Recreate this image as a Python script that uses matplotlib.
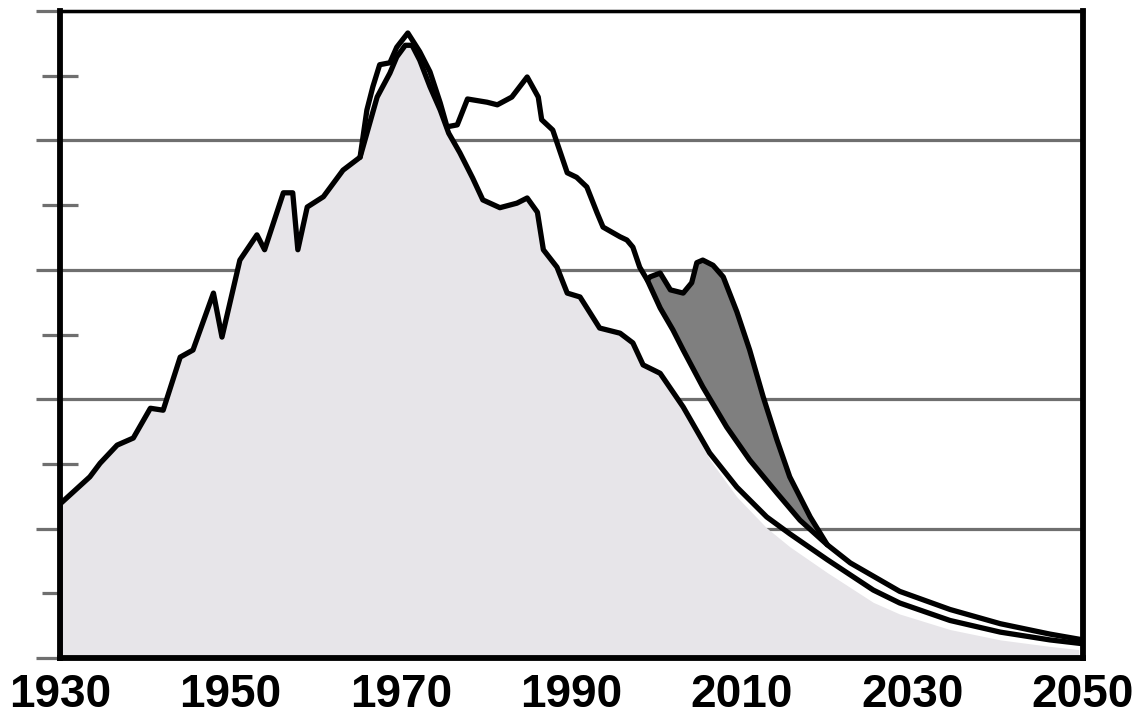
import matplotlib
matplotlib.use("Agg")
import matplotlib.pyplot as plt
import numpy as np

# ---- data ----
years_low = [1930, 1930, 1933.5, 1934.7, 1936.7, 1938.6, 1940.6, 1942.1, 1944.1, 1945.6, 1948.0,
             1949.0, 1951.1, 1953.1, 1954.0, 1956.2, 1957.3, 1957.9, 1959.0, 1960.9, 1963.2,
             1965.2, 1967.2, 1968.7, 1969.5, 1970.5, 1971.3, 1972.2, 1973.4, 1974.6, 1975.6,
             1976.9, 1978.4, 1979.6, 1981.6, 1983.6, 1984.8, 1986.0, 1986.7, 1988.3, 1989.5,
             1991.0, 1992.2, 1993.3, 1995.7, 1997.2, 1998.4, 2000.4, 2003.1, 2006.2, 2009.4,
             2012.9, 2015.6, 2020.0, 2025.4, 2028.5, 2034.4, 2040.3, 2046.1, 2050]
values_low = [0.0, 2.38, 2.80, 3.01, 3.29, 3.40, 3.86, 3.83, 4.65, 4.76, 5.64,
              4.96, 6.15, 6.54, 6.31, 7.19, 7.19, 6.31, 6.97, 7.13, 7.54,
              7.74, 8.67, 9.04, 9.29, 9.47, 9.47, 9.24, 8.83, 8.47, 8.11,
              7.81, 7.42, 7.08, 6.96, 7.03, 7.11, 6.89, 6.31, 6.04, 5.64,
              5.58, 5.33, 5.10, 5.02, 4.87, 4.53, 4.40, 3.88, 3.17, 2.64,
              2.18, 1.92, 1.52, 1.05, 0.85, 0.58, 0.40, 0.28, 0.22]

years_mid = [1965.2, 1966.0, 1966.7, 1967.5, 1968.7, 1969.5, 1970.8, 1972.2, 1973.4, 1974.6,
             1975.4, 1976.6, 1977.8, 1980.1, 1981.3, 1983.0, 1984.8, 1986.1, 1986.5, 1987.8,
             1989.5, 1990.6, 1991.8, 1993.0, 1993.7, 1995.7, 1996.5, 1997.2, 1998.0, 1998.9,
             2000.4, 2001.9, 2003.1, 2005.4, 2008.2, 2010.9, 2014.1, 2016.8, 2020.0, 2022.7,
             2028.5, 2034.4, 2040.3, 2046.1, 2050]
values_mid = [7.74, 8.47, 8.83, 9.17, 9.20, 9.44, 9.66, 9.37, 9.06, 8.58,
              8.21, 8.24, 8.64, 8.59, 8.55, 8.67, 8.98, 8.67, 8.32, 8.16,
              7.50, 7.43, 7.28, 6.88, 6.66, 6.51, 6.46, 6.35, 6.04, 5.84,
              5.41, 5.07, 4.76, 4.19, 3.57, 3.06, 2.55, 2.13, 1.75, 1.47,
              1.03, 0.75, 0.53, 0.37, 0.28]

years_top = [1998.9, 1999.2, 2000.4, 2001.6, 2003.1, 2004.1, 2004.7, 2005.4, 2006.6, 2007.8,
             2009.4, 2010.9, 2012.5, 2014.1, 2015.6, 2018.0, 2020.0]
values_top = [5.84, 5.89, 5.95, 5.69, 5.64, 5.80, 6.11, 6.15, 6.07, 5.89,
              5.35, 4.76, 4.03, 3.37, 2.80, 2.18, 1.75]

years_area_tail = [2003.1, 2006.2, 2009.4, 2012.9, 2015.6, 2020.0, 2025.4, 2028.5, 2034.4,
                   2040.3, 2046.1, 2049.5]
values_area_tail = [3.83, 3.07, 2.49, 2.01, 1.72, 1.32, 0.86, 0.68, 0.44, 0.28, 0.18, 0.13]

xtick_years = [1930, 1950, 1970, 1990, 2010, 2030, 2050]
ymajor = [0, 2, 4, 6, 8, 10]
yminor = [1, 3, 5, 7, 9]

# ---- figure ----
fig = plt.figure(figsize=(11.38, 7.17), dpi=100)
ax = fig.add_axes([60 / 1138, 59 / 717, 1023 / 1138, 647 / 717])
ax.set_xlim(1930, 2050)
ax.set_ylim(0, 10)
ax.set_axisbelow(True)

LIGHT = "#e7e5e9"
DARK = "#7f7f7f"
GRID = "#6f6f6f"

# light area: low curve up to 2000, then its own slightly lower edge
n_head = years_low.index(2000.4) + 1
area_x = list(years_low[1:n_head]) + years_area_tail
area_y = list(values_low[1:n_head]) + values_area_tail
ax.fill_between(area_x, 0, area_y, color=LIGHT, lw=0, zorder=1)

# dark band between middle and top curve
mid_in = [(x, y) for x, y in zip(years_mid, values_mid) if years_top[0] <= x <= years_top[-1]]
poly_x = list(years_top) + [p[0] for p in reversed(mid_in)]
poly_y = list(values_top) + [p[1] for p in reversed(mid_in)]
ax.fill(poly_x, poly_y, color=DARK, lw=0, zorder=1.5)

lw = 3.8
for xs, ys in [(years_low, values_low), (years_mid, values_mid), (years_top, values_top)]:
    ax.plot(xs, ys, color="black", lw=lw, zorder=3,
            solid_joinstyle="round", solid_capstyle="round")

# grid & ticks
ax.set_yticks(ymajor)
ax.set_yticks(yminor, minor=True)
ax.set_yticklabels([])
ax.yaxis.grid(True, which="major", color=GRID, lw=2.3)
ax.xaxis.grid(False)
ax.tick_params(axis="y", which="major", direction="out", length=17, width=2.3, color=GRID, labelleft=False)
ax.tick_params(axis="y", which="minor", direction="inout", length=26, width=2.3, color=GRID, labelleft=False)
ax.set_xticks(xtick_years)
ax.set_xticklabels([str(y) for y in xtick_years], fontsize=33, fontweight="bold",
                   family=["Liberation Sans", "DejaVu Sans"])
ax.tick_params(axis="x", length=0, pad=11)

for side in ["left", "right", "bottom"]:
    ax.spines[side].set_linewidth(4.2)
    ax.spines[side].set_color("black")
ax.spines["top"].set_linewidth(2.5)
ax.spines["top"].set_color("black")

fig.savefig("out.png", dpi=100, facecolor="white")
